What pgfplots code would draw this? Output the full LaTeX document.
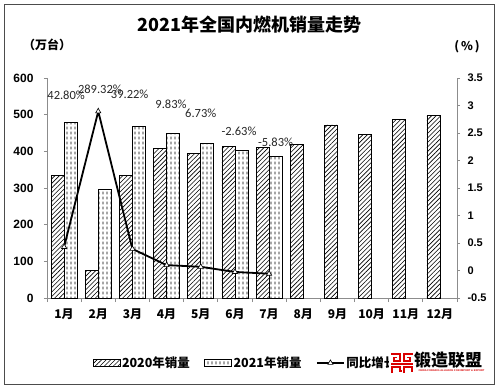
\documentclass[border=0pt]{standalone}
\usepackage{fontspec}
\setmainfont{Liberation Sans}
\newfontfamily\cjk{Noto Sans CJK SC}
\newfontfamily\calfont{Carlito}
\usepackage{pgfplots}
\usepackage{pgfplotstable}
\pgfplotsset{compat=1.18}
\usetikzlibrary{patterns,patterns.meta}

\pgfdeclarepattern{
  name=vdash,
  type=uncolored,
  bottom left={\pgfpoint{0pt}{0pt}},
  top right={\pgfpoint{4.4pt}{5pt}},
  tile size={\pgfpoint{4.4pt}{5pt}},
  code={
    \pgfsetlinewidth{0.9pt}
    \pgfpathmoveto{\pgfpoint{2.2pt}{0.8pt}}
    \pgfpathlineto{\pgfpoint{2.2pt}{3.9pt}}
    \pgfusepath{stroke}
  }
}

\pgfplotstableread{
x y2020 y2021
0 335 478
1 76 297
2 335 468
3 408 448
4 395 421
5 414 403
6 411 387
7 419 nan
8 472 nan
9 447 nan
10 488 nan
11 497 nan
}\sales

\pgfplotstableread{
x g
0 0.4280
1 2.8932
2 0.3922
3 0.0983
4 0.0673
5 -0.0263
6 -0.0583
}\growth

\begin{document}
\begin{tikzpicture}
\path (0pt,0pt) rectangle (500pt,389pt);
\draw[line width=0.9pt, black!70] (4pt,5pt) rectangle (494.5pt,385pt);

\node[font=\cjk\bfseries\fontsize{18}{20}\selectfont] at (249.5pt,364pt) {2021年全国内燃机销量走势};
\node[font=\cjk\bfseries\fontsize{12}{14}\selectfont] at (47pt,344pt) {（万台）};
\node[font=\cjk\bfseries\fontsize{12}{14}\selectfont] at (467pt,342pt) {(\,\%\,)};

\begin{axis}[
  at={(47pt,91pt)}, anchor=south west,
  scale only axis, width=410pt, height=220pt,
  xmin=-0.5, xmax=11.5, ymin=0, ymax=600,
  ytick={0,100,...,600},
  axis y line*=left, axis x line*=bottom,
  axis line style={black!45, line width=0.8pt},
  xtick={0,...,11},
  xticklabels={1月,2月,3月,4月,5月,6月,7月,8月,9月,10月,11月,12月},
  major x tick style={draw=none},
  minor xtick={-0.5,0.5,...,11.5},
  minor x tick style={black!45, line width=0.8pt},
  minor tick length=4pt,
  x tick label style={font=\cjk\bfseries\fontsize{12}{14}\selectfont, yshift=-4pt},
  y tick label style={font=\bfseries\fontsize{12}{14}\selectfont, xshift=-7pt},
  ytick style={black!45, line width=0.8pt},
  tick align=outside, major tick length=3pt,
  /pgf/number format/assume math mode=true,
  ybar=0pt, bar width=13pt,
  clip=false,
]
\addplot[draw=black, line width=0.6pt, pattern={Lines[angle=45,distance=3.2pt,line width=0.6pt]}] table[x=x,y=y2020] {\sales};
\addplot[draw=black, line width=0.6pt, pattern=vdash] table[x=x,y=y2021] {\sales};
\begin{scope}[font=\calfont\fontsize{12.5}{14}\selectfont, text=black!85]
\node at (axis cs:0.06,552) {42.80\%};
\node at (axis cs:1.05,568) {289.32\%};
\node at (axis cs:1.92,555) {39.22\%};
\node at (axis cs:3.13,528) {9.83\%};
\node at (axis cs:4.0,505) {6.73\%};
\node at (axis cs:5.12,456) {-2.63\%};
\node at (axis cs:6.19,426) {-5.83\%};
\end{scope}
\end{axis}

\begin{axis}[
  at={(47pt,91pt)}, anchor=south west,
  scale only axis, width=410pt, height=220pt,
  xmin=-0.5, xmax=11.5, ymin=-0.5, ymax=3.5,
  ytick={-0.5,0,0.5,1,1.5,2,2.5,3,3.5},
  yticklabels={-0.5,0,0.5,1,1.5,2,2.5,3,3.5},
  axis y line*=right, axis x line=none,
  axis line style={black!45, line width=0.8pt},
  y tick label style={font=\bfseries\fontsize{11}{13}\selectfont, xshift=4pt},
  ytick style={black!45, line width=0.8pt},
  tick align=outside, major tick length=3pt,
  /pgf/number format/assume math mode=true,
  legend style={at={(0.112,-0.295)}, anchor=west, draw=none, fill=none,
    inner sep=0pt, outer sep=0pt, legend columns=3,
    font=\cjk\bfseries\fontsize{12.5}{14}\selectfont,
    /tikz/every even column/.append style={column sep=13pt},
    nodes={inner sep=1.5pt}},
  clip=false,
]
\addlegendimage{legend image code/.code={\draw[draw=black, line width=0.6pt, pattern={Lines[angle=45,distance=3.2pt,line width=0.6pt]}] (0pt,-3.5pt) rectangle (27pt,3.5pt);}}
\addlegendentry{2020年销量}
\addlegendimage{legend image code/.code={\draw[draw=black, line width=0.6pt, pattern=vdash] (0pt,-3.5pt) rectangle (27pt,3.5pt);}}
\addlegendentry{2021年销量}
\addplot[black, line width=1.8pt, mark=triangle*, mark size=3pt,
  mark options={fill=white, draw=black, line width=0.6pt},
  legend image code/.code={\draw[black, line width=1.8pt] (0pt,0pt) -- (27pt,0pt);
     \draw[black, line width=0.6pt, fill=white] plot[mark=triangle*, mark size=3pt] coordinates {(13.5pt,0pt)};}]
  table[x=x,y=g] {\growth};
\addlegendentry{同比增长}
\end{axis}

% watermark logo
\fill[white] (389pt,11pt) rectangle (491pt,41pt);
\begin{scope}[red!85!black, line width=1.7pt, line cap=butt, line join=miter]
\draw (391pt,35pt) -- (400pt,35pt) -- (400pt,28pt) -- (394pt,28pt) -- (394pt,31.5pt) -- (397pt,31.5pt);
\draw (413pt,35pt) -- (404pt,35pt) -- (404pt,28pt) -- (410pt,28pt) -- (410pt,31.5pt) -- (407pt,31.5pt);
\draw (391pt,25pt) -- (413pt,25pt);
\draw (392pt,16pt) -- (392pt,22pt) -- (400pt,22pt) -- (400pt,18pt) -- (402pt,18pt);
\draw (404pt,16pt) -- (404pt,22pt) -- (412pt,22pt) -- (412pt,17pt);
\end{scope}
\node[font=\cjk\bfseries\fontsize{17}{19}\selectfont, anchor=west, inner sep=0pt] at (414pt,29pt) {锻造联盟};
\node[font=\bfseries\fontsize{2.6}{3}\selectfont, text=red!85!black, inner sep=0pt] at (451.5pt,18pt) {CHINA FORGING ALLIANCE FOR IMPORT \& EXPORT};
\end{tikzpicture}
\end{document}
